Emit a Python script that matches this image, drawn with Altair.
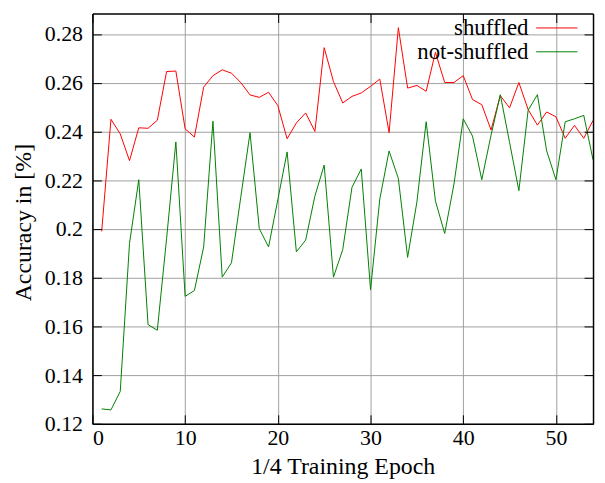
import altair as alt
import pandas as pd

epochs = list(range(1, 55))
shuffled = [0.199, 0.245, 0.239, 0.228, 0.2415, 0.2413, 0.2446, 0.2646, 0.2648, 0.2411,
            0.2377, 0.2582, 0.2629, 0.2653, 0.2639, 0.2601, 0.2550, 0.2540, 0.2561, 0.2506,
            0.2370, 0.2435, 0.2476, 0.2400, 0.2744, 0.2605, 0.2517, 0.2544, 0.2558, 0.2585,
            0.2615, 0.2395, 0.2826, 0.2578, 0.2589, 0.2565, 0.2725, 0.2601, 0.2601, 0.2629,
            0.2531, 0.2510, 0.2406, 0.2547, 0.2497, 0.2601, 0.2490, 0.2426, 0.2480, 0.2460,
            0.2372, 0.2425, 0.2372, 0.2445]
not_shuffled = [0.1261, 0.1257, 0.1333, 0.1940, 0.2202, 0.1607, 0.1584, 0.1960, 0.2357, 0.1723,
                0.1747, 0.1926, 0.2442, 0.1802, 0.1861, 0.2130, 0.2395, 0.2001, 0.1926, 0.2120,
                0.2316, 0.1906, 0.1954, 0.2135, 0.2262, 0.1802, 0.1915, 0.2171, 0.2246, 0.1750,
                0.2123, 0.2320, 0.2207, 0.1883, 0.2110, 0.2440, 0.2115, 0.1981, 0.2184, 0.2452,
                0.2381, 0.2202, 0.2385, 0.2551, 0.2355, 0.2157, 0.2487, 0.2551, 0.2320, 0.2202,
                0.2440, 0.2452, 0.2466, 0.2284]
series_names = ["shuffled", "not-shuffled"]
series_colors = ["#ff0000", "#008000"]
x_ticks = [0, 10, 20, 30, 40, 50]
y_ticks = [0.12, 0.14, 0.16, 0.18, 0.20, 0.22, 0.24, 0.26, 0.28]
x_domain = [0, 54]
y_domain = [0.12, 0.2884]

df = pd.DataFrame({
    "epoch": epochs + epochs,
    "acc": shuffled + not_shuffled,
    "series": [series_names[0]] * len(epochs) + [series_names[1]] * len(epochs),
})

W, H = 504, 413
FONT = "Liberation Serif"

xs = alt.Scale(domain=x_domain, nice=False, zero=False)
ys = alt.Scale(domain=y_domain, nice=False, zero=False)


def tick_axis(orient, offset, vals):
    return alt.Axis(orient=orient, offset=offset, values=vals, labels=False, grid=False,
                    domain=True, domainColor="black", domainWidth=1.5,
                    ticks=True, tickSize=9, tickColor="black", tickWidth=1, zindex=1)


lines = alt.Chart(df).mark_line(strokeWidth=1, clip=True).encode(
    x=alt.X("epoch:Q", scale=xs,
            axis=alt.Axis(orient="bottom", values=x_ticks, format="d", grid=True,
                          gridColor="#a0a0a0", gridWidth=1, ticks=False, domain=False,
                          labelFont=FONT, labelFontSize=22, labelColor="black", labelPadding=4,
                          title="1/4 Training Epoch", titleFont=FONT, titleFontSize=24,
                          titleFontWeight="normal", titleColor="black", titleY=50,
                          titleBaseline="alphabetic", zindex=0)),
    y=alt.Y("acc:Q", scale=ys,
            axis=alt.Axis(orient="left", values=y_ticks, format=".2~f", grid=True,
                          gridColor="#a0a0a0", gridWidth=1, ticks=False, domain=False,
                          labelFont=FONT, labelFontSize=22, labelColor="black", labelPadding=10,
                          title="Accuracy in [%]", titleFont=FONT, titleFontSize=24,
                          titleFontWeight="normal", titleColor="black", titleX=-62, titleY=210,
                          titleBaseline="alphabetic", zindex=0)),
    color=alt.Color("series:N",
                    scale=alt.Scale(domain=series_names, range=series_colors),
                    sort=series_names,
                    legend=alt.Legend(title=None, orient="none", legendX=456, legendY=3,
                                      symbolType="M-4,0H4", symbolSize=108, symbolStrokeWidth=1,
                                      symbolOffset=0,
                                      labelFont=FONT, labelFontSize=23, labelColor="black",
                                      labelAlign="right", labelOffset={"expr": "-40"},
                                      labelLimit=300, rowPadding=0, padding=0)),
)

ticks_a = alt.Chart(df).mark_point(opacity=0).encode(
    x=alt.X("epoch:Q", scale=xs, title=None, axis=tick_axis("top", -H, x_ticks)),
    y=alt.Y("acc:Q", scale=ys, title=None, axis=tick_axis("right", -W, y_ticks)),
)
ticks_b = alt.Chart(df).mark_point(opacity=0).encode(
    x=alt.X("epoch:Q", scale=xs, title=None, axis=tick_axis("bottom", -H, x_ticks)),
    y=alt.Y("acc:Q", scale=ys, title=None, axis=tick_axis("left", -W, y_ticks)),
)

chart = alt.layer(lines, ticks_a, ticks_b).resolve_axis(
    x="independent", y="independent"
).properties(
    width=W, height=H,
    autosize=alt.AutoSizeParams(type="none"),
    padding={"left": 85, "top": 4, "right": 4, "bottom": 55},
).configure_view(stroke=None)

chart.save("out.html", embed_options={"renderer": "svg", "actions": False})
